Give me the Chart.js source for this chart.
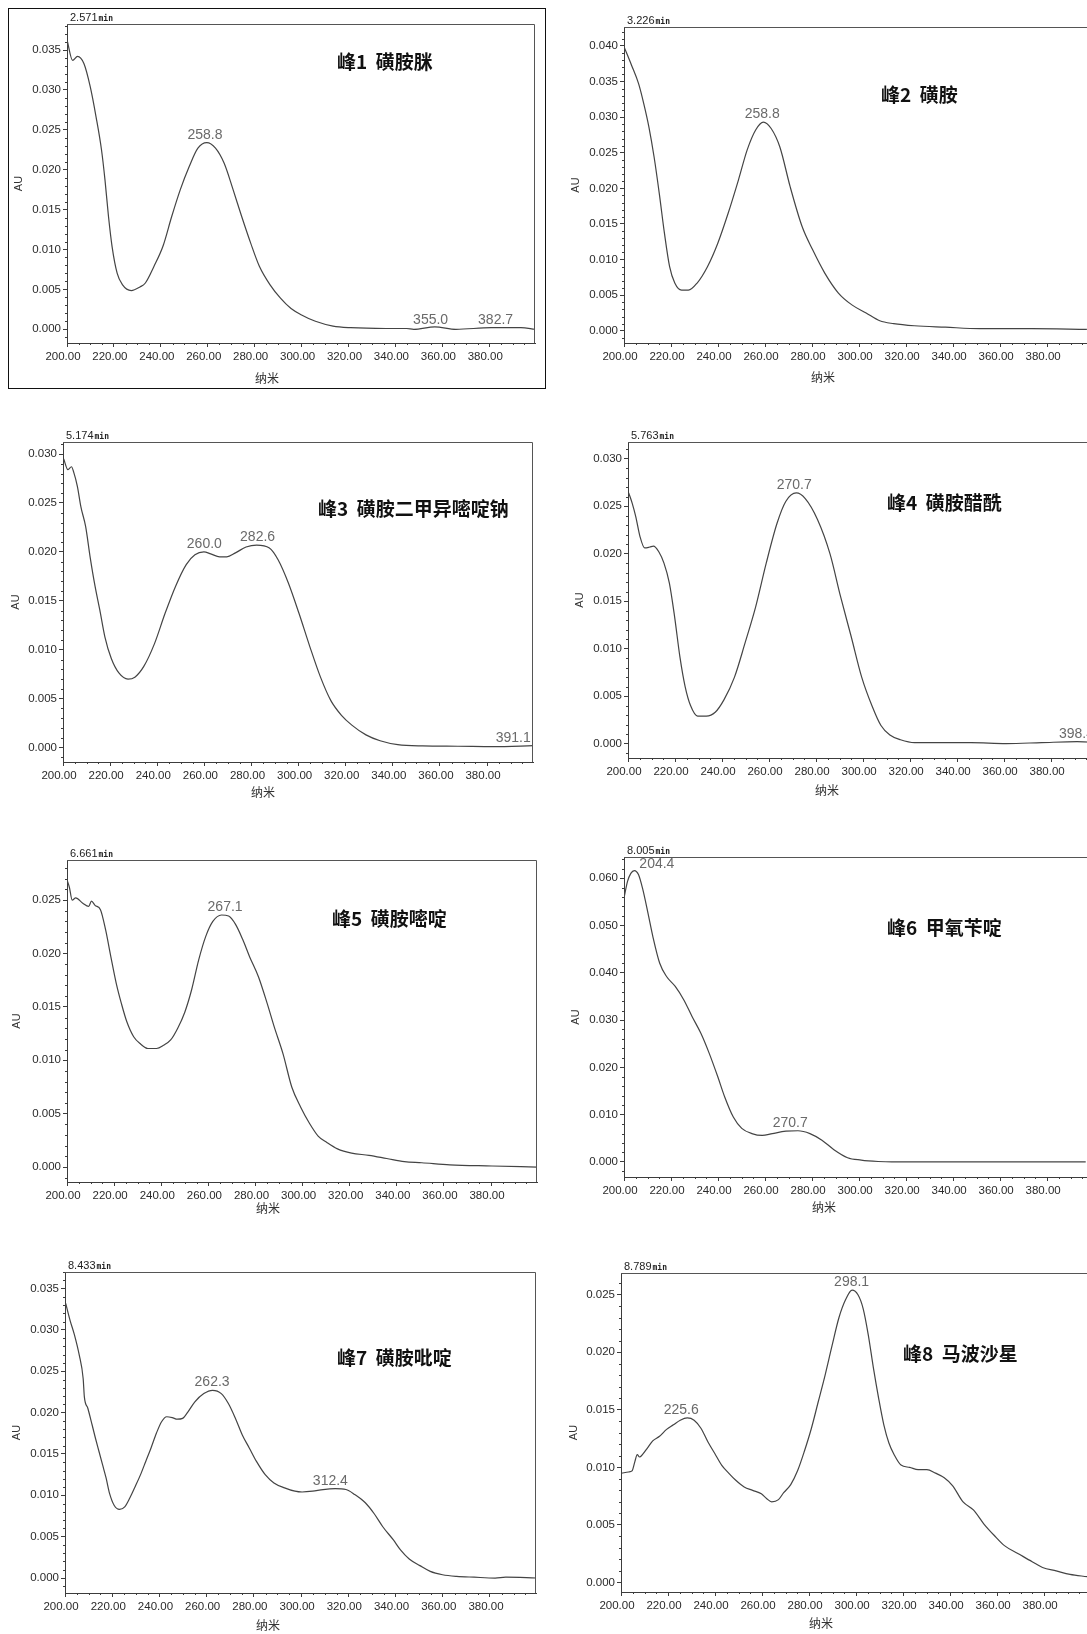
<!DOCTYPE html>
<html lang="zh">
<head>
  <meta charset="UTF-8" />
  <title>磺胺类药物紫外光谱图</title>
  <style>
    html, body { margin: 0; padding: 0; background: #fff; overflow: hidden; }
    #page { position: relative; width: 1087px; height: 1634px; overflow: hidden; background: #fff; }
    #page canvas { position: absolute; }
    .frame { position: absolute; border: 1.5px solid #111; box-sizing: border-box; }
  </style>
</head>
<body>
  <div id="page">
    <div class="frame" style="left:8px; top:8px; width:538px; height:381px;"></div>
  </div>
  <script src="https://cdn.jsdelivr.net/npm/chart.js"></script>
  <script>
    // ---- data (wavelength nm, absorbance AU) ----
    const wl1 = [200.0, 202.4, 204.5, 207.2, 209.9, 212.4, 214.7, 216.2, 217.7, 219.2, 221.4, 223.6, 227.4, 231.1, 233.4, 237.1, 240.9, 244.6, 248.3, 252.1, 255.8, 259.6, 263.3, 267.0, 270.8, 274.5, 278.3, 282.0, 286.5, 291.0, 295.5, 300.0, 305.9, 313.4, 320.9, 335.9, 344.8, 347.8, 356.8, 365.8, 380.8, 393.5, 399.5];
    const au1 = [0.0363, 0.0337, 0.0342, 0.0333, 0.0304, 0.0266, 0.0225, 0.0187, 0.0141, 0.0104, 0.0070, 0.0056, 0.00485, 0.0053, 0.0058, 0.0079, 0.0104, 0.0141, 0.0175, 0.0204, 0.0227, 0.0234, 0.0227, 0.0208, 0.0175, 0.0141, 0.0108, 0.0079, 0.0056, 0.0039, 0.0026, 0.0018, 0.0010, 0.0004, 0.0002, 0.0001, 0.0001, 0.0000, 0.0003, 0.0000, 0.0002, 0.0002, 0.0000];

    const wl2 = [200.0, 203.2, 206.2, 208.4, 210.6, 212.8, 215.0, 217.2, 219.4, 221.6, 224.5, 227.4, 231.1, 235.5, 239.9, 244.3, 248.7, 252.4, 256.0, 259.3, 262.6, 266.3, 270.7, 275.8, 280.2, 285.4, 291.2, 297.1, 303.0, 308.8, 314.7, 323.5, 336.7, 351.4, 373.4, 396.9];
    const au2 = [0.0399, 0.0373, 0.0347, 0.0319, 0.0286, 0.0244, 0.0193, 0.0137, 0.0090, 0.0067, 0.0057, 0.0057, 0.0067, 0.0090, 0.0123, 0.0165, 0.0212, 0.0254, 0.0282, 0.0293, 0.0284, 0.0258, 0.0202, 0.0146, 0.0114, 0.0081, 0.0053, 0.0036, 0.0025, 0.0014, 0.0010, 0.0007, 0.0005, 0.0003, 0.0003, 0.0002];

    const wl3 = [200.3, 202.1, 203.6, 204.6, 206.1, 207.6, 209.6, 211.5, 213.6, 215.6, 217.8, 220.5, 223.8, 227.6, 230.5, 234.3, 238.8, 243.3, 247.8, 252.3, 256.0, 259.8, 262.7, 266.5, 269.5, 273.2, 277.7, 282.2, 287.6, 291.3, 295.7, 300.2, 304.8, 309.3, 313.7, 318.2, 322.6, 328.6, 334.6, 342.1, 352.6, 367.6, 382.5, 400.2];
    const au3 = [0.0295, 0.0284, 0.0287, 0.0281, 0.0267, 0.0246, 0.0226, 0.0195, 0.0165, 0.0141, 0.0113, 0.0091, 0.0076, 0.0070, 0.0072, 0.0083, 0.0106, 0.0137, 0.0165, 0.0187, 0.0197, 0.0200, 0.0198, 0.0195, 0.0195, 0.0199, 0.0205, 0.0207, 0.0204, 0.0192, 0.0168, 0.0137, 0.0103, 0.0072, 0.0048, 0.0033, 0.0023, 0.0013, 0.0007, 0.0003, 0.00017, 0.00014, 0.0001, 0.0002];

    const wl4 = [200.3, 201.8, 203.3, 205.1, 207.1, 209.3, 210.8, 213.1, 215.3, 217.6, 219.8, 222.1, 224.3, 226.6, 229.6, 233.3, 237.1, 240.8, 245.3, 249.8, 254.3, 258.8, 263.4, 267.1, 271.6, 275.4, 280.6, 285.9, 290.4, 294.9, 299.4, 303.9, 307.6, 311.4, 315.9, 321.9, 345.9, 360.9, 375.9, 391.0, 401.2];
    const au4 = [0.0264, 0.0253, 0.0239, 0.0218, 0.0206, 0.0207, 0.0208, 0.0202, 0.0190, 0.0169, 0.0134, 0.0091, 0.0060, 0.0040, 0.0029, 0.0029, 0.0033, 0.0046, 0.0070, 0.0106, 0.0144, 0.0190, 0.0232, 0.0255, 0.0264, 0.0258, 0.0236, 0.0200, 0.0155, 0.0113, 0.0070, 0.0039, 0.0019, 0.0009, 0.0004, 0.0001, 0.0001, 0.0000, 0.0001, 0.0002, 0.0001];

    const wl5 = [200.0, 201.0, 202.2, 203.7, 206.7, 209.2, 210.4, 211.9, 214.2, 216.4, 218.6, 220.9, 223.1, 225.4, 228.3, 231.3, 234.3, 238.0, 241.0, 244.0, 247.0, 250.0, 252.9, 255.9, 258.9, 261.9, 265.6, 268.6, 271.6, 274.6, 277.5, 281.3, 285.0, 288.0, 291.7, 295.4, 299.2, 302.9, 306.6, 310.3, 314.8, 320.8, 328.2, 335.7, 343.2, 350.6, 362.5, 380.4, 399.8];
    const au5 = [0.0269, 0.0262, 0.0250, 0.0252, 0.0247, 0.0244, 0.0249, 0.0245, 0.0241, 0.0222, 0.0197, 0.0172, 0.0153, 0.0136, 0.0122, 0.0115, 0.0111, 0.0111, 0.0114, 0.0119, 0.0130, 0.0145, 0.0166, 0.0194, 0.0216, 0.0230, 0.0236, 0.0235, 0.0227, 0.0213, 0.0197, 0.0178, 0.0153, 0.0131, 0.0106, 0.0075, 0.0056, 0.0041, 0.0029, 0.0023, 0.0017, 0.0013, 0.0011, 0.0008, 0.0005, 0.0004, 0.0002, 0.0001, 0.0000];

    const wl6 = [200.0, 201.5, 202.9, 204.4, 206.2, 208.0, 210.2, 212.3, 215.2, 218.1, 221.8, 225.4, 229.0, 232.7, 236.3, 239.9, 242.8, 246.5, 250.1, 254.4, 258.8, 263.1, 268.9, 274.0, 279.1, 284.2, 289.3, 295.1, 300.9, 308.1, 313.9, 396.4];
    const au6 = [0.0558, 0.0593, 0.0610, 0.0616, 0.0607, 0.0576, 0.0526, 0.0476, 0.0420, 0.0392, 0.0371, 0.0343, 0.0307, 0.0272, 0.0229, 0.0180, 0.0138, 0.0095, 0.0071, 0.0060, 0.0056, 0.0060, 0.0065, 0.0066, 0.0060, 0.0046, 0.0026, 0.0009, 0.0004, 0.0001, 0.0000, 0.0000];

    const wl7 = [200.3, 202.2, 204.0, 206.0, 207.7, 208.2, 209.7, 211.5, 212.9, 214.4, 215.9, 217.4, 218.9, 220.8, 223.1, 225.3, 227.5, 229.8, 232.0, 234.2, 236.4, 238.7, 240.9, 243.1, 245.4, 247.6, 249.8, 252.1, 255.0, 258.8, 262.5, 266.2, 269.2, 272.2, 275.1, 278.1, 281.1, 284.8, 288.5, 293.0, 297.4, 300.4, 304.9, 309.3, 314.5, 319.0, 322.7, 327.2, 330.9, 334.6, 339.1, 342.1, 345.8, 350.3, 354.7, 359.9, 365.9, 373.3, 382.2, 386.7, 399.8];
    const au7 = [0.0332, 0.0311, 0.0294, 0.0270, 0.0241, 0.0219, 0.0205, 0.0185, 0.0169, 0.0153, 0.0137, 0.0121, 0.0102, 0.0088, 0.0083, 0.0086, 0.0097, 0.0111, 0.0125, 0.0141, 0.0157, 0.0175, 0.0189, 0.0195, 0.0194, 0.0192, 0.0193, 0.0201, 0.0213, 0.0223, 0.0227, 0.0223, 0.0211, 0.0193, 0.0173, 0.0157, 0.0141, 0.0125, 0.0115, 0.0109, 0.0105, 0.0104, 0.0105, 0.0107, 0.0108, 0.0107, 0.0101, 0.0091, 0.0078, 0.0062, 0.0046, 0.0034, 0.0023, 0.0015, 0.0008, 0.0004, 0.0002, 0.0001, 0.0000, 0.0001, 0.0000];

    const wl8 = [200.3, 203.2, 204.7, 205.9, 206.9, 207.9, 209.1, 211.3, 213.5, 216.4, 219.4, 222.3, 225.2, 228.2, 231.1, 234.0, 237.0, 239.9, 242.8, 245.8, 248.7, 252.4, 256.0, 259.7, 261.9, 264.1, 267.0, 269.2, 272.2, 275.1, 278.0, 281.0, 283.9, 286.8, 289.8, 292.7, 295.6, 298.3, 300.8, 303.0, 305.2, 307.4, 309.6, 311.8, 314.0, 316.2, 319.1, 322.8, 326.4, 330.1, 333.8, 337.5, 341.1, 345.5, 349.9, 354.3, 358.7, 363.1, 369.0, 374.9, 379.3, 385.1, 391.0, 398.3];
    const au8 = [0.0095, 0.0096, 0.0097, 0.0105, 0.0111, 0.0109, 0.0111, 0.0117, 0.0123, 0.0127, 0.0133, 0.0137, 0.0141, 0.0143, 0.0141, 0.0134, 0.0122, 0.0112, 0.0102, 0.0095, 0.0089, 0.0083, 0.0080, 0.0077, 0.0073, 0.0070, 0.0072, 0.0078, 0.0085, 0.0097, 0.0114, 0.0134, 0.0157, 0.0180, 0.0206, 0.0230, 0.0246, 0.0254, 0.0250, 0.0238, 0.0215, 0.0186, 0.0160, 0.0137, 0.0121, 0.0111, 0.0102, 0.0100, 0.0098, 0.0098, 0.0095, 0.0091, 0.0084, 0.0070, 0.0063, 0.0051, 0.0041, 0.0032, 0.0025, 0.0018, 0.0013, 0.0010, 0.0007, 0.0005];

    // labelled maxima (wavelength, absorbance at the label)
    const peakWl = [[258.8, 355.0, 382.7], [258.8], [260.0, 282.6, 391.1], [270.7, 398.4], [267.1], [204.4, 270.7], [262.3, 312.4], [225.6, 298.1]];
    const peakAu = [[0.0234, 0.0002, 0.0002], [0.0293], [0.0200, 0.0207, 0.0002], [0.0264, 0.0002], [0.0236], [0.0616, 0.0066], [0.0227, 0.0108], [0.0143, 0.0254]];

    const runTimes = ['2.571', '3.226', '5.174', '5.763', '6.661', '8.005', '8.433', '8.789'];
    const titles = ['峰1  磺胺脒', '峰2  磺胺', '峰3  磺胺二甲异嘧啶钠', '峰4  磺胺醋酰', '峰5  磺胺嘧啶', '峰6  甲氧苄啶', '峰7  磺胺吡啶', '峰8  马波沙星'];

    // axes
    const xTicks = [200, 220, 240, 260, 280, 300, 320, 340, 360, 380];
    const xMin = 200, xMax = 399.5, xMinorStep = 5;
    const yMin = [-0.00172, -0.00172, -0.00147, -0.00152, -0.0014, -0.00318, -0.00181, -0.00083];
    const yMax = [0.03826, 0.04266, 0.03123, 0.03176, 0.02875, 0.06446, 0.037, 0.02689];
    const yStep = [0.005, 0.005, 0.005, 0.005, 0.005, 0.010, 0.005, 0.005];

    const series = [[wl1, au1], [wl2, au2], [wl3, au3], [wl4, au4], [wl5, au5], [wl6, au6], [wl7, au7], [wl8, au8]];

    // plot-area boxes on the page, plus where the free text sits
    const boxes = [
      { l: 67,  t: 24,   r: 535,  b: 343,  title: [337, 62],   au: 19,  nm: [267, 378] },
      { l: 624, t: 27,   r: 1093, b: 343,  title: [881, 95],   au: 576, nm: [823, 377] },
      { l: 63,  t: 442,  r: 533,  b: 762,  title: [318, 509],  au: 16,  nm: [263, 792] },
      { l: 628, t: 442,  r: 1097, b: 758,  title: [887, 503],  au: 580, nm: [827, 790] },
      { l: 67,  t: 860,  r: 537,  b: 1182, title: [332, 919],  au: 17,  nm: [268, 1208] },
      { l: 624, t: 857,  r: 1093, b: 1177, title: [887, 928],  au: 576, nm: [824, 1207] },
      { l: 65,  t: 1272, r: 536,  b: 1593, title: [337, 1358], au: 17,  nm: [268, 1625] },
      { l: 621, t: 1273, r: 1090, b: 1592, title: [903, 1354], au: 574, nm: [821, 1623] }
    ];

    const AXIS_W = 64, TOP_PAD = 24, X_H = 45;
    const ink = '#3c3c3c';
    const tickFont = { family: "'Liberation Sans', Arial, sans-serif", size: 11.5 };
    const page = document.getElementById('page');

    function makeTicks(lo, hi, step) {
      const out = [];
      for (let i = 0; ; i++) {
        const v = +(i * step).toFixed(6);
        if (v > hi) break;
        if (v >= lo) out.push(v);
      }
      return out;
    }

    boxes.forEach((bx, k) => {
      const cl = bx.l - AXIS_W, ct = bx.t - TOP_PAD;
      const cw = bx.r - bx.l + AXIS_W + 2, ch = bx.b - bx.t + TOP_PAD + X_H;
      const cv = document.createElement('canvas');
      cv.width = cw; cv.height = ch;
      cv.style.left = cl + 'px'; cv.style.top = ct + 'px';
      cv.style.width = cw + 'px'; cv.style.height = ch + 'px';
      page.appendChild(cv);

      const [wl, au] = series[k];
      const yTicks = makeTicks(0, yMax[k], yStep[k]);

      const decor = {
        id: 'decor' + k,
        afterDatasetsDraw(chart) {
          const ctx = chart.ctx, a = chart.chartArea;
          const xs = chart.scales.x, ys = chart.scales.y;
          ctx.save();
          // top and right frame of the plot area
          ctx.strokeStyle = '#555';
          ctx.lineWidth = 1;
          ctx.beginPath();
          ctx.moveTo(a.left, a.top + 0.5); ctx.lineTo(a.right - 0.5, a.top + 0.5); ctx.lineTo(a.right - 0.5, a.bottom);
          ctx.stroke();
          // minor ticks
          ctx.strokeStyle = ink;
          ctx.beginPath();
          for (let v = xMin; v <= xMax; v += xMinorStep) {
            if (v % 20 === 0) continue;
            const px = Math.round(xs.getPixelForValue(v)) + 0.5;
            ctx.moveTo(px, a.bottom); ctx.lineTo(px, a.bottom + 2);
          }
          const yMinor = yStep[k] / 5;
          for (let i = Math.ceil(yMin[k] / yMinor); i * yMinor <= yMax[k]; i++) {
            if (i % 5 === 0) continue;
            const py = Math.round(ys.getPixelForValue(i * yMinor)) + 0.5;
            ctx.moveTo(a.left - 2, py); ctx.lineTo(a.left, py);
          }
          ctx.stroke();

          // peak labels
          ctx.fillStyle = '#6a6a6a';
          ctx.font = "14px 'Liberation Sans', Arial, sans-serif";
          ctx.textBaseline = 'alphabetic';
          peakWl[k].forEach((w, i) => {
            const txt = w.toFixed(1);
            const tw = ctx.measureText(txt).width;
            let px = xs.getPixelForValue(w);
            const py = Math.max(ys.getPixelForValue(peakAu[k][i]) - 4, a.top + 11);
            if (px - tw / 2 < a.left) {
              ctx.textAlign = 'left'; px += 5;
            } else if (px + tw / 2 > a.right) {
              ctx.textAlign = 'right'; px = a.right - 3;
            } else {
              ctx.textAlign = 'center';
            }
            ctx.fillText(txt, px, py);
          });

          // run time above the plot
          ctx.fillStyle = '#222';
          ctx.textAlign = 'left';
          ctx.font = "11px 'Liberation Sans', Arial, sans-serif";
          const rt = runTimes[k];
          ctx.fillText(rt, a.left + 3, a.top - 3);
          const rw = ctx.measureText(rt).width;
          ctx.font = "bold 8px 'DejaVu Sans Mono', monospace";
          ctx.fillText('min', a.left + 4 + rw, a.top - 3);

          // compound title
          ctx.fillStyle = '#111';
          ctx.font = "bold 19px 'Noto Sans CJK SC', sans-serif";
          ctx.textBaseline = 'middle';
          ctx.fillText(titles[k], bx.title[0] - cl, bx.title[1] - ct);

          // axis names
          ctx.fillStyle = '#333';
          ctx.font = "12px 'Noto Sans CJK SC', sans-serif";
          ctx.textAlign = 'center';
          ctx.fillText('纳米', bx.nm[0] - cl, bx.nm[1] - ct);
          ctx.translate(bx.au - cl, (a.top + a.bottom) / 2);
          ctx.rotate(-Math.PI / 2);
          ctx.font = "11px 'Liberation Sans', Arial, sans-serif";
          ctx.fillText('AU', 0, 0);
          ctx.restore();
        }
      };

      new Chart(cv, {
        type: 'line',
        data: {
          datasets: [{
            data: wl.map((w, i) => ({ x: w, y: au[i] })),
            borderColor: '#444',
            borderWidth: 1.2,
            pointRadius: 0,
            cubicInterpolationMode: 'monotone',
            fill: false
          }]
        },
        options: {
          responsive: false,
          animation: false,
          devicePixelRatio: 1,
          layout: { padding: { top: TOP_PAD, right: 2, left: 0, bottom: 0 } },
          plugins: { legend: { display: false }, tooltip: { enabled: false } },
          scales: {
            x: {
              type: 'linear',
              min: xMin,
              max: xMax,
              afterBuildTicks: s => { s.ticks = xTicks.map(v => ({ value: v })); },
              afterFit: s => { s.height = X_H; },
              ticks: {
                callback: v => Number(v).toFixed(2),
                font: tickFont,
                color: '#2a2a2a',
                maxRotation: 0,
                autoSkip: false,
                padding: 3,
                labelOffset: -4
              },
              grid: { drawOnChartArea: false, tickLength: 4, color: ink },
              border: { color: ink, width: 1 }
            },
            y: {
              min: yMin[k],
              max: yMax[k],
              afterBuildTicks: s => { s.ticks = yTicks.map(v => ({ value: v })); },
              afterFit: s => { s.width = AXIS_W; },
              ticks: {
                callback: v => Number(v).toFixed(3),
                font: tickFont,
                color: '#2a2a2a',
                autoSkip: false,
                padding: 2
              },
              grid: { drawOnChartArea: false, tickLength: 4, color: ink },
              border: { color: ink, width: 1 }
            }
          }
        },
        plugins: [decor]
      });
    });
  </script>
</body>
</html>
